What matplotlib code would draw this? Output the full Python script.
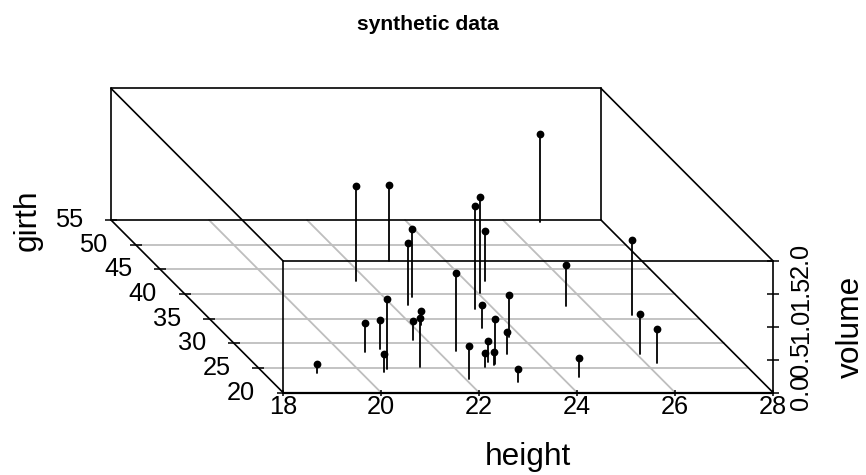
import matplotlib
matplotlib.use("Agg")
import matplotlib.pyplot as plt
import numpy as np

plt.rcParams['font.family'] = ['Liberation Sans', 'DejaVu Sans']

title = "synthetic data"
height = [21.75, 22.84, 26.71, 23.62, 24.05, 24.39, 22.56, 22.32, 22.37, 25.53, 26.69,
          26.07, 26.23, 24.37, 23.02, 23.74, 23.36, 19.10, 20.49, 20.87, 20.61, 20.48,
          21.71, 21.31, 22.20, 22.08, 23.36, 22.65, 22.80, 22.86, 22.90]
girth = [42.6, 46.7, 54.6, 36.9, 40.2, 42.6, 39.3, 37.7, 28.4, 37.5, 35.7,
         27.8, 25.9, 23.2, 22.2, 31.2, 27.9, 24.0, 28.2, 28.8, 24.8, 24.1,
         30.6, 25.2, 33.7, 22.8, 33.0, 25.2, 26.1, 25.6, 25.8]
volume = [1.44, 1.15, 1.34, 1.57, 1.46, 0.76, 1.04, 0.94, 1.19, 0.63, 1.14,
          0.61, 0.53, 0.29, 0.19, 0.64, 0.33, 0.14, 0.44, 0.45, 1.06, 0.28,
          0.30, 0.75, 0.21, 0.50, 0.36, 0.21, 0.32, 0.20, 0.69]
height_ticks = [18, 20, 22, 24, 26, 28]
girth_ticks = [20, 25, 30, 35, 40, 45, 50, 55]
volume_ticks = [0.0, 0.5, 1.0, 1.5, 2.0]
volume_labels = ["0.0", "0.5", "1.0", "1.5", "2.0"]

W, H = 866, 475
fig = plt.figure(figsize=(W / 100, H / 100), dpi=100)
ax = fig.add_axes([0, 0, 1, 1])
ax.axis("off")

# oblique projection of the 3D box onto the axes' plane
PX_X, PX_Z = 49.0, 65.8
SHEAR_X = 172.0 / 35 / PX_X
SHEAR_Z = 172.5 / 35 / PX_Z
ax.set_xlim(18 - 283 / PX_X, 18 + (W - 283) / PX_X)
ax.set_ylim(-(H - 392.5) / PX_Z, 392.5 / PX_Z)


def proj(h, g, v=0.0):
    h, g, v = np.asarray(h, float), np.asarray(g, float), np.asarray(v, float)
    return h - SHEAR_X * (g - girth_ticks[0]), v + SHEAR_Z * (g - girth_ticks[0])


def seg(a, b, **kw):
    x0, y0 = proj(*a)
    x1, y1 = proj(*b)
    ax.plot([x0, x1], [y0, y1], solid_capstyle="round", **kw)


hmin, hmax = height_ticks[0], height_ticks[-1]
gmin, gmax = girth_ticks[0], girth_ticks[-1]
vmin, vmax = volume_ticks[0], volume_ticks[-1]

GRID = dict(color="#bebebe", lw=1.3, zorder=1)
BOX = dict(color="black", lw=1.2, zorder=2)

for h in height_ticks[1:-1]:
    seg((h, gmin), (h, gmax), **GRID)
for g in girth_ticks[1:-1]:
    seg((hmin, g), (hmax, g), **GRID)

# back walls and floor edges
seg((hmin, gmax, vmin), (hmax, gmax, vmin), **BOX)
seg((hmin, gmax, vmax), (hmax, gmax, vmax), **BOX)
seg((hmin, gmax, vmin), (hmin, gmax, vmax), **BOX)
seg((hmax, gmax, vmin), (hmax, gmax, vmax), **BOX)
seg((hmin, gmin, vmin), (hmin, gmax, vmin), **BOX)
seg((hmax, gmin, vmin), (hmax, gmax, vmin), **BOX)
seg((hmin, gmin, vmax), (hmin, gmax, vmax), **BOX)
seg((hmax, gmin, vmax), (hmax, gmax, vmax), **BOX)
# front face
seg((hmin, gmin, vmin), (hmin, gmin, vmax), **BOX)
seg((hmax, gmin, vmin), (hmax, gmin, vmax), **BOX)
seg((hmin, gmin, vmax), (hmax, gmin, vmax), **BOX)
seg((hmin, gmin, vmin), (hmax, gmin, vmin), color="black", lw=1.6, zorder=2)

# drop lines and points
for h, g, v in zip(height, girth, volume):
    seg((h, g, 0.0), (h, g, v), color="black", lw=1.3, zorder=3)
px, py = proj(height, girth, volume)
ax.plot(px, py, "o", color="black", ms=5.6, mew=0, zorder=4)


def tick(h, g, v, dx0, dy0, dx1, dy1):
    x, y = proj(h, g, v)
    ax.plot([x + dx0 / PX_X, x + dx1 / PX_X], [y + dy0 / PX_Z, y + dy1 / PX_Z],
            color="black", lw=1.1, zorder=2, solid_capstyle="butt")


def label(txt, h, g, v, dx, dy, **kw):
    ax.annotate(txt, xy=proj(h, g, v), xytext=(dx, dy), textcoords="offset pixels",
                ha="center", va="center", color="black", fontsize=TICK_FS, **kw)


TICK_FS = 18.3
for h in height_ticks:
    tick(h, gmin, vmin, 0, -3, 0, 3)
    label(str(h), h, gmin, vmin, 0, -14)
for g in girth_ticks:
    tick(hmin, g, vmin, -6, 0, 6, 0)
    label(str(g), hmin, g, vmin, -42, 0)
for v, s in zip(volume_ticks, volume_labels):
    tick(hmax, gmin, v, -6, 0, 6, 0)
    label(s, hmax, gmin, v, 28, 0, rotation=90)

ax.text(428 / W, 1 - 24 / H, title, transform=ax.transAxes, ha="center", va="center",
        fontsize=15.2, fontweight="bold", color="black")
ax.text(528 / W, 1 - 457 / H, "height", transform=ax.transAxes, ha="center", va="center",
        fontsize=22.8, color="black")
ax.text(28 / W, 1 - 220 / H, "girth", transform=ax.transAxes, ha="center", va="center",
        fontsize=22.8, rotation=90, color="black")
ax.text(850.5 / W, 1 - 327 / H, "volume", transform=ax.transAxes, ha="center", va="center",
        fontsize=22.8, rotation=90, color="black")

fig.savefig("out.png", dpi=100)
